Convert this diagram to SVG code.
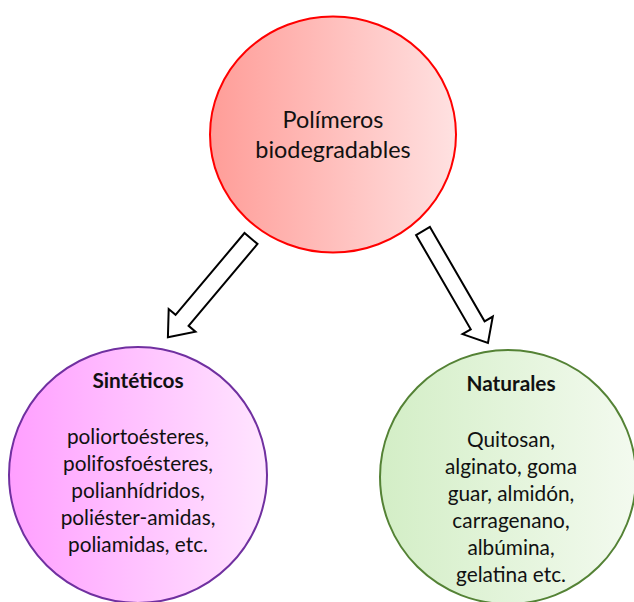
<svg xmlns="http://www.w3.org/2000/svg" width="634" height="602" viewBox="0 0 634 602">
<defs>
<linearGradient id="gRed" x1="0" y1="0" x2="1" y2="0"><stop offset="0" stop-color="#ff9d98"/><stop offset="1" stop-color="#ffe1e1"/></linearGradient>
<linearGradient id="gPink" x1="0" y1="0" x2="1" y2="0"><stop offset="0" stop-color="#ff9fff"/><stop offset="1" stop-color="#ffe5ff"/></linearGradient>
<linearGradient id="gGreen" x1="0" y1="0" x2="1" y2="0"><stop offset="0" stop-color="#d3eec6"/><stop offset="1" stop-color="#f3faef"/></linearGradient>
<style>
text{font-family:Lato,"Open Sans","Liberation Sans",sans-serif;fill:#111;text-anchor:middle}
.t1{font-size:23.4px}
.t2{font-size:20.8px}
.b{font-weight:bold}
.arrow{fill:#fff;stroke:#000;stroke-width:2;stroke-linejoin:miter}
</style>
</defs>
<g id="connectors">
<polygon class="arrow" transform="translate(251,238.5) rotate(130.1)" points="0,-8.5 107,-8.5 107,-17.5 129,0 107,17.5 107,8.5 0,8.5"/>
<polygon class="arrow" transform="translate(423,231) rotate(59.9)" points="0,-8 109,-8 109,-17.5 129.5,0 109,17.5 109,8 0,8"/>
</g>
<g id="top">
<ellipse cx="333" cy="134.5" rx="123" ry="118" fill="url(#gRed)" stroke="#ff0000" stroke-width="2"/>
<text class="t1" x="333" y="128">Polímeros</text>
<text class="t1" x="333" y="158">biodegradables</text>
</g>
<g id="sinteticos">
<ellipse cx="138" cy="475" rx="129" ry="128" fill="url(#gPink)" stroke="#7030a0" stroke-width="2"/>
<text class="t2 b" x="138" y="388">Sintéticos</text>
<text class="t2" x="138" y="444">poliortoésteres,</text>
<text class="t2" x="138" y="471">polifosfoésteres,</text>
<text class="t2" x="138" y="498">polianhídridos,</text>
<text class="t2" x="138" y="525">poliéster-amidas,</text>
<text class="t2" x="138" y="552">poliamidas, etc.</text>
</g>
<g id="naturales">
<ellipse cx="508" cy="477" rx="128" ry="127" fill="url(#gGreen)" stroke="#548235" stroke-width="2"/>
<text class="t2 b" x="511" y="391">Naturales</text>
<text class="t2" x="511" y="447">Quitosan,</text>
<text class="t2" x="511" y="474">alginato, goma</text>
<text class="t2" x="511" y="501">guar, almidón,</text>
<text class="t2" x="511" y="528">carragenano,</text>
<text class="t2" x="511" y="555">albúmina,</text>
<text class="t2" x="511" y="582">gelatina etc.</text>
</g>
</svg>
